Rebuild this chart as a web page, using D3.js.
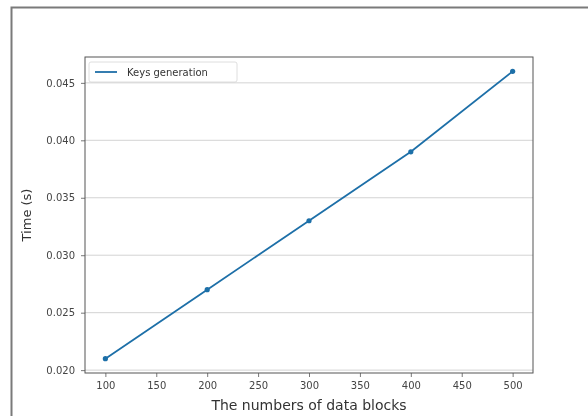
<!DOCTYPE html>
<html>
<head>
<meta charset="utf-8">
<script src="https://cdn.jsdelivr.net/npm/d3@7"></script>
<style>
  html, body { margin: 0; padding: 0; background: #fff; }
  svg { display: block; }
</style>
</head>
<body>
<svg id="chart" width="588" height="416"></svg>
<script>
// Key generation time versus number of data blocks
const blocks = [100, 200, 300, 400, 500];
const keyGenTime = [0.021, 0.027, 0.033, 0.039, 0.046];
const xTicks = [100, 150, 200, 250, 300, 350, 400, 450, 500];
const yTicks = [0.020, 0.025, 0.030, 0.035, 0.040, 0.045];
const seriesName = "Keys generation";

const W = 588, H = 416;
const plot = { left: 85, right: 533, top: 57, bottom: 373 };
const lineColor = "#1f6fa8";
const font = "'DejaVu Sans', sans-serif";

const svg = d3.select("#chart");

// soft rendering
const defs = svg.append("defs");
defs.append("filter").attr("id", "soft")
  .append("feGaussianBlur").attr("stdDeviation", 0.45);

const g = svg.append("g").attr("filter", "url(#soft)");

// outer figure frame (left and top edges visible)
g.append("path")
  .attr("d", `M11.5,${H + 5} L11.5,7.5 L${W + 5},7.5`)
  .attr("fill", "none").attr("stroke", "#7a7a7a").attr("stroke-width", 2);

const x = d3.scaleLinear().domain([80, 520]).range([plot.left, plot.right]);
const y = d3.scaleLinear().domain([0.01975, 0.04725]).range([plot.bottom, plot.top]);

// horizontal grid
g.append("g").selectAll("line").data(yTicks).join("line")
  .attr("x1", plot.left).attr("x2", plot.right)
  .attr("y1", d => y(d)).attr("y2", d => y(d))
  .attr("stroke", "#c8c8c8").attr("stroke-width", 0.8);

// axes
const xAxis = d3.axisBottom(x).tickValues(xTicks).tickFormat(d3.format("d"))
  .tickSize(4).tickPadding(5);
const yAxis = d3.axisLeft(y).tickValues(yTicks).tickFormat(d3.format(".3f"))
  .tickSize(4).tickPadding(6);

const gx = g.append("g").attr("transform", `translate(0,${plot.bottom})`).call(xAxis);
const gy = g.append("g").attr("transform", `translate(${plot.left},0)`).call(yAxis);
[gx, gy].forEach(a => {
  a.select(".domain").remove();
  a.selectAll(".tick line").attr("stroke", "#555").attr("stroke-width", 0.8);
  a.selectAll(".tick text").attr("fill", "#444")
    .style("font-family", font).style("font-size", "10px");
});

// plot frame
g.append("rect")
  .attr("x", plot.left).attr("y", plot.top)
  .attr("width", plot.right - plot.left).attr("height", plot.bottom - plot.top)
  .attr("fill", "none").attr("stroke", "#555").attr("stroke-width", 1);

// series
const line = d3.line().x((d, i) => x(blocks[i])).y(d => y(d));
g.append("path").datum(keyGenTime)
  .attr("d", line).attr("fill", "none")
  .attr("stroke", lineColor).attr("stroke-width", 1.8);
g.append("g").selectAll("circle").data(keyGenTime).join("circle")
  .attr("cx", (d, i) => x(blocks[i])).attr("cy", d => y(d))
  .attr("r", 2.6).attr("fill", lineColor);

// legend
const lg = g.append("g").attr("transform", "translate(89,62)");
lg.append("rect").attr("width", 148).attr("height", 20).attr("rx", 2)
  .attr("fill", "#fff").attr("fill-opacity", 0.85)
  .attr("stroke", "#d6d6d6").attr("stroke-width", 0.8);
lg.append("line").attr("x1", 6).attr("x2", 28).attr("y1", 10).attr("y2", 10)
  .attr("stroke", lineColor).attr("stroke-width", 1.8);
lg.append("text").attr("x", 38).attr("y", 13.5).text(seriesName)
  .attr("fill", "#333").style("font-family", font).style("font-size", "10px");

// axis titles
g.append("text").attr("x", (plot.left + plot.right) / 2).attr("y", 410)
  .attr("text-anchor", "middle").attr("fill", "#333")
  .style("font-family", font).style("font-size", "14px")
  .text("The numbers of data blocks");
g.append("text")
  .attr("transform", `translate(31,${(plot.top + plot.bottom) / 2}) rotate(-90)`)
  .attr("text-anchor", "middle").attr("fill", "#333")
  .style("font-family", font).style("font-size", "13px")
  .text("Time (s)");
</script>
</body>
</html>
